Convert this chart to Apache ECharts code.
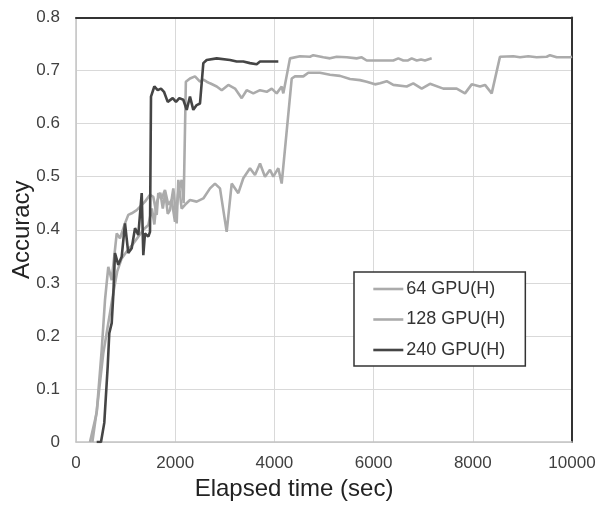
<!DOCTYPE html>
<html>
<head>
<meta charset="utf-8">
<script src="https://cdn.jsdelivr.net/npm/echarts@6/dist/echarts.min.js"></script>
<style>
html,body{margin:0;padding:0;background:#fff;}
#chart{width:598px;height:505px;}
</style>
</head>
<body>
<div id="chart"></div>
<script>
// ---- data ----
const seriesNames = ['64 GPU(H)', '128 GPU(H)', '240 GPU(H)'];
const xTicks = [0, 2000, 4000, 6000, 8000, 10000];
const yTicks = [0, 0.1, 0.2, 0.3, 0.4, 0.5, 0.6, 0.7, 0.8];

const t64 = [330, 420, 550, 750, 830, 921, 1022, 1156, 1256, 1357, 1458, 1530, 1580, 1620, 1700, 1750, 1800, 1850, 1895, 1962, 2030, 2063, 2130, 2198, 2298, 2433, 2567, 2702, 2802, 2903, 3038, 3139, 3272, 3373, 3508, 3609, 3710, 3810, 3911, 3978, 4079, 4147, 4175, 4349, 4415, 4583, 4683, 4919, 5121, 5323, 5524, 5726, 5861, 6028, 6129, 6264, 6397, 6667, 6800, 6970, 7137, 7405, 7675, 7843, 7978, 8145, 8246, 8381, 8548, 8817, 8952, 9119, 9288, 9490, 9556, 9692, 9960, 10000];
const acc64 = [0, 0.06, 0.167, 0.28, 0.321, 0.346, 0.359, 0.374, 0.387, 0.4, 0.409, 0.44, 0.41, 0.45, 0.47, 0.44, 0.47, 0.43, 0.437, 0.478, 0.412, 0.494, 0.44, 0.447, 0.456, 0.453, 0.459, 0.478, 0.487, 0.478, 0.396, 0.487, 0.469, 0.497, 0.516, 0.503, 0.525, 0.5, 0.513, 0.5, 0.516, 0.487, 0.49, 0.685, 0.689, 0.689, 0.696, 0.696, 0.692, 0.69, 0.684, 0.682, 0.679, 0.674, 0.676, 0.68, 0.673, 0.67, 0.676, 0.666, 0.675, 0.666, 0.666, 0.657, 0.674, 0.67, 0.673, 0.657, 0.726, 0.727, 0.725, 0.727, 0.725, 0.726, 0.729, 0.725, 0.725, 0.726];

const t128 = [282, 417, 518, 585, 651, 720, 821, 887, 988, 1054, 1123, 1224, 1391, 1492, 1558, 1627, 1659, 1728, 1794, 1861, 1929, 1996, 2063, 2131, 2170, 2215, 2298, 2399, 2500, 2567, 2635, 2702, 2837, 2938, 3071, 3206, 3341, 3441, 3575, 3710, 3845, 3946, 4046, 4147, 4180, 4315, 4516, 4718, 4784, 4986, 5121, 5256, 5458, 5659, 5760, 5861, 6129, 6397, 6498, 6599, 6694, 6768, 6869, 6956, 7036, 7171];
const acc128 = [0, 0.055, 0.173, 0.268, 0.33, 0.305, 0.393, 0.384, 0.412, 0.428, 0.431, 0.437, 0.453, 0.466, 0.462, 0.428, 0.469, 0.459, 0.475, 0.447, 0.456, 0.415, 0.472, 0.494, 0.45, 0.679, 0.685, 0.689, 0.679, 0.683, 0.679, 0.676, 0.67, 0.663, 0.673, 0.666, 0.648, 0.663, 0.657, 0.663, 0.66, 0.666, 0.657, 0.67, 0.657, 0.723, 0.727, 0.726, 0.729, 0.725, 0.723, 0.726, 0.725, 0.723, 0.725, 0.719, 0.719, 0.719, 0.723, 0.719, 0.719, 0.723, 0.719, 0.721, 0.719, 0.723];

const t240 = [417, 504, 570, 639, 671, 720, 752, 786, 853, 921, 988, 1054, 1123, 1190, 1256, 1325, 1357, 1391, 1458, 1492, 1512, 1579, 1647, 1714, 1774, 1849, 1950, 2016, 2083, 2163, 2232, 2298, 2365, 2433, 2500, 2530, 2567, 2635, 2837, 3105, 3240, 3373, 3508, 3643, 3710, 3911, 4079];
const acc240 = [0, 0, 0.036, 0.142, 0.205, 0.224, 0.277, 0.356, 0.334, 0.349, 0.412, 0.356, 0.365, 0.403, 0.39, 0.469, 0.352, 0.393, 0.387, 0.396, 0.651, 0.67, 0.663, 0.666, 0.66, 0.641, 0.648, 0.641, 0.648, 0.645, 0.626, 0.651, 0.626, 0.635, 0.638, 0.64, 0.714, 0.72, 0.723, 0.72, 0.717, 0.717, 0.714, 0.712, 0.717, 0.717, 0.717];

const pairs = (t, a) => t.map((x, i) => [x, a[i]]);

const chart = echarts.init(document.getElementById('chart'), null, {renderer: 'canvas'});
const font = 'Liberation Sans, Arial, sans-serif';
const lineSeries = (name, t, a, color) => ({
  name: name, type: 'line', data: pairs(t, a), symbol: 'none',
  lineStyle: {color: color, width: 2.6}, itemStyle: {color: color}, z: 3,
  xAxisIndex: 0, yAxisIndex: 0
});

chart.setOption({
  animation: false,
  backgroundColor: '#fff',
  grid: {left: 76, right: 26, top: 17.5, bottom: 63, containLabel: false, outerBoundsMode: 'none'},
  legend: {
    orient: 'vertical', left: 354, top: 272,
    padding: [8, 20, 7, 18], itemGap: 12.5, itemWidth: 30, itemHeight: 14,
    backgroundColor: '#fff', borderColor: '#333', borderWidth: 1.5,
    itemStyle: {opacity: 0},
    lineStyle: {width: 2.6},
    textStyle: {fontFamily: font, fontSize: 18, color: '#333', padding: [0, 0, 0, -2]},
    data: seriesNames
  },
  xAxis: [{
    type: 'value', min: 0, max: 10000, interval: 2000,
    name: 'Elapsed time (sec)', nameLocation: 'middle', nameGap: 34,
    nameTextStyle: {fontFamily: font, fontSize: 24, color: '#222', padding: [0, 60, 0, 0]},
    axisLine: {show: true, lineStyle: {color: '#c4c4c4', width: 1.5}},
    axisTick: {show: false},
    axisLabel: {fontFamily: font, fontSize: 17, color: '#404040', margin: 13,
      formatter: v => xTicks.includes(v) ? String(v) : ''},
    splitLine: {show: true, lineStyle: {color: '#d9d9d9', width: 1}}
  }, {
    type: 'value', position: 'top', min: 0, max: 10000,
    axisLine: {show: true, onZero: false, lineStyle: {color: '#333', width: 2}},
    axisTick: {show: false}, axisLabel: {show: false}, splitLine: {show: false}
  }],
  yAxis: [{
    type: 'value', min: 0, max: 0.8, interval: 0.1,
    name: 'Accuracy', nameLocation: 'middle', nameGap: 42, nameMoveOverlap: false,
    nameTextStyle: {fontFamily: font, fontSize: 24, color: '#222'},
    axisLine: {show: true, lineStyle: {color: '#c4c4c4', width: 1.5}},
    axisTick: {show: false},
    axisLabel: {fontFamily: font, fontSize: 17, color: '#404040', margin: 16,
      formatter: v => { const r = Math.round(v * 10) / 10; return yTicks.includes(r) ? String(r) : ''; }},
    splitLine: {show: true, lineStyle: {color: '#d9d9d9', width: 1}}
  }, {
    type: 'value', position: 'right', min: 0, max: 0.8,
    axisLine: {show: true, onZero: false, lineStyle: {color: '#333', width: 2}},
    axisTick: {show: false}, axisLabel: {show: false}, splitLine: {show: false}
  }],
  series: [
    lineSeries(seriesNames[0], t64, acc64, '#ababab'),
    lineSeries(seriesNames[1], t128, acc128, '#ababab'),
    lineSeries(seriesNames[2], t240, acc240, '#454545')
  ]
});
</script>
</body>
</html>
